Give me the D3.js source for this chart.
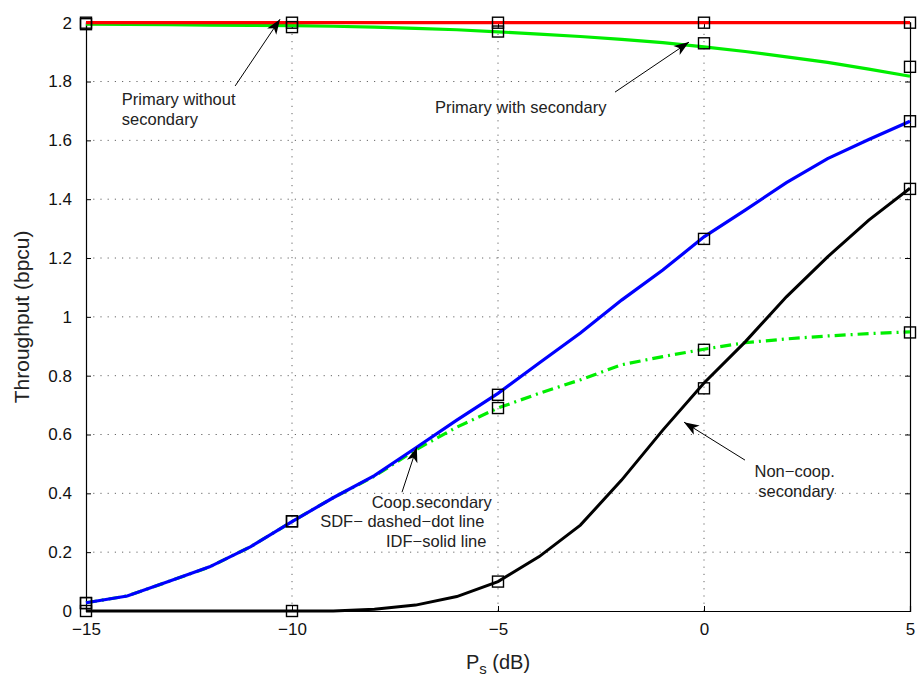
<!DOCTYPE html>
<html>
<head>
<meta charset="utf-8">
<script src="https://cdn.jsdelivr.net/npm/d3@7"></script>
<style>
  body { margin: 0; background: #fff; }
  svg { font-family: "Liberation Sans", Arial, Helvetica, sans-serif; }
  .grid line { stroke: #666; stroke-width: 1; stroke-dasharray: 1.2,6; }
  .tick-lbl { font-size: 17px; fill: #111; }
  .note { font-size: 16.5px; fill: #222; }
</style>
</head>
<body>
<svg id="chart" width="919" height="684"></svg>
<script>
// x axis: P_s in dB (curves computed at 1 dB steps)
const psDb = [-15, -14, -13, -12, -11, -10, -9, -8, -7, -6, -5, -4, -3, -2, -1, 0, 1, 2, 3, 4, 5]

// analytical curves
const primaryWithout = [2, 2, 2, 2, 2, 2, 2, 2, 2, 2, 2, 2, 2, 2, 2, 2, 2, 2, 2, 2, 2]
const primaryWith = [1.995, 1.994, 1.993, 1.992, 1.991, 1.99, 1.988, 1.985, 1.981, 1.976, 1.969,
                     1.961, 1.953, 1.943, 1.932, 1.918, 1.902, 1.884, 1.865, 1.842, 1.818]
const coopIdf = [0.028, 0.051, 0.1, 0.15, 0.219, 0.304, 0.385, 0.46, 0.554, 0.649, 0.74,
                 0.843, 0.945, 1.057, 1.159, 1.272, 1.363, 1.456, 1.538, 1.603, 1.665]
const coopSdf = [0.028, 0.051, 0.1, 0.15, 0.219, 0.304, 0.385, 0.458, 0.548, 0.625, 0.69,
                 0.74, 0.786, 0.837, 0.865, 0.89, 0.912, 0.925, 0.935, 0.943, 0.949]
const nonCoop = [0, 0, 0, 0, 0, 0, 0, 0.006, 0.02, 0.049, 0.1,
                 0.185, 0.292, 0.445, 0.615, 0.775, 0.915, 1.068, 1.204, 1.329, 1.437]

// simulated points (square markers)
const simDb = [-15, -10, -5, 0, 5]
const simWithout = [2, 2, 2, 2, 2]
const simWith = [1.995, 1.985, 1.97, 1.93, 1.85]
const simIdf = [0.027, 0.305, 0.735, 1.265, 1.665]
const simSdf = [0.027, 0.305, 0.69, 0.888, 0.947]
const simNonCoop = [0, 0, 0.1, 0.757, 1.435]

const xTicks = [-15, -10, -5, 0, 5]
const yTicks = [0, 0.2, 0.4, 0.6, 0.8, 1, 1.2, 1.4, 1.6, 1.8, 2]

const svg = d3.select("#chart")
const x = d3.scaleLinear().domain([-15, 5]).range([86, 910])
const y = d3.scaleLinear().domain([0, 2]).range([611, 22.7])

// grid
const grid = svg.append("g").attr("class", "grid")
grid.selectAll(".gx").data(xTicks.slice(1, -1)).enter().append("line")
  .attr("x1", d => x(d)).attr("x2", d => x(d)).attr("y1", y(0)).attr("y2", y(2))
grid.selectAll(".gy").data(yTicks.slice(1, -1)).enter().append("line")
  .attr("x1", x(-15)).attr("x2", x(5)).attr("y1", d => y(d)).attr("y2", d => y(d))

// axes (ticks point inward on all four sides)
svg.append("g").attr("transform", `translate(0,${y(0)})`)
  .call(d3.axisBottom(x).tickValues(xTicks).tickSize(-5).tickPadding(12).tickFormat(d3.format("")))
svg.append("g").attr("transform", `translate(0,${y(2)})`)
  .call(d3.axisTop(x).tickValues(xTicks).tickSize(-5).tickFormat(""))
svg.append("g").attr("transform", `translate(${x(-15)},0)`)
  .call(d3.axisLeft(y).tickValues(yTicks).tickSize(-5).tickPadding(14).tickFormat(d => String(d)))
svg.append("g").attr("transform", `translate(${x(5)},0)`)
  .call(d3.axisRight(y).tickValues(yTicks).tickSize(-5).tickFormat(""))
svg.selectAll(".domain").attr("stroke", "#000").attr("stroke-width", 1.2)
svg.selectAll(".tick line").attr("stroke", "#000")
svg.selectAll(".tick text").attr("class", "tick-lbl").attr("font-size", null).attr("font-family", null)

// curves
const line = d3.line().x((d, i) => x(psDb[i])).y(d => y(d))
const curves = [
  { vals: primaryWith,    color: "#00ee00", width: 3.2, dash: null },
  { vals: primaryWithout, color: "#ff0000", width: 3.2, dash: null },
  { vals: coopSdf,        color: "#00ee00", width: 3.2, dash: "11,5,2,5" },
  { vals: coopIdf,        color: "#0000ff", width: 3.2, dash: null },
  { vals: nonCoop,        color: "#000000", width: 3, dash: null }
]
svg.append("g").selectAll("path").data(curves).enter().append("path")
  .attr("d", d => line(d.vals))
  .attr("fill", "none")
  .attr("stroke", d => d.color)
  .attr("stroke-width", d => d.width)
  .attr("stroke-dasharray", d => d.dash)

// square markers
const sims = [simWithout, simWith, simIdf, simSdf, simNonCoop]
const pts = sims.flatMap(s => s.map((v, i) => ({ x: simDb[i], v })))
svg.append("g").selectAll("rect").data(pts).enter().append("rect")
  .attr("x", d => x(d.x) - 5.5).attr("y", d => y(d.v) - 5.5)
  .attr("width", 11).attr("height", 11)
  .attr("fill", "none").attr("stroke", "#000").attr("stroke-width", 1.4)

// annotations (arrows in data units: tail -> tip)
const arrows = [
  { from: [-11.38, 1.785], to: [-10.29, 2.012] },
  { from: [-2.16, 1.764],  to: [-0.364, 1.934] },
  { from: [-7.33, 0.404],  to: [-6.97, 0.557] },
  { from: [0.995, 0.513],  to: [-0.485, 0.642] }
]
const ag = svg.append("g")
arrows.forEach(a => {
  const x1 = x(a.from[0]), y1 = y(a.from[1]), x2 = x(a.to[0]), y2 = y(a.to[1])
  const ang = Math.atan2(y2 - y1, x2 - x1) * 180 / Math.PI
  ag.append("line").attr("x1", x1).attr("y1", y1).attr("x2", x2).attr("y2", y2)
    .attr("stroke", "#000").attr("stroke-width", 1)
  ag.append("path").attr("d", "M0,0 L-15,-5.5 L-11,0 L-15,5.5 Z")
    .attr("fill", "#000")
    .attr("transform", `translate(${x2},${y2}) rotate(${ang})`)
})

const notes = [
  { t: "Primary without", at: [-14.13, 1.72], anchor: "start" },
  { t: "secondary", at: [-14.13, 1.652], anchor: "start" },
  { t: "Primary with secondary", at: [-6.53, 1.693], anchor: "start" },
  { t: "Coop.secondary", at: [-5.15, 0.35], anchor: "end" },
  { t: "SDF\u2212 dashed\u2212dot line", at: [-5.33, 0.2855], anchor: "end" },
  { t: "IDF\u2212solid line", at: [-5.28, 0.2175], anchor: "end" },
  { t: "Non\u2212coop.", at: [2.2, 0.454], anchor: "middle" },
  { t: "secondary", at: [2.24, 0.386], anchor: "middle" }
]
svg.append("g").selectAll("text").data(notes).enter().append("text")
  .attr("class", "note")
  .attr("x", d => x(d.at[0])).attr("y", d => y(d.at[1]))
  .attr("text-anchor", d => d.anchor)
  .text(d => d.t)

// axis titles
svg.append("text")
  .attr("transform", `translate(29,${(y(0) + y(2)) / 2}) rotate(-90)`)
  .attr("text-anchor", "middle").attr("font-size", 21).attr("fill", "#222")
  .text("Throughput (bpcu)")
const xl = svg.append("text")
  .attr("x", (x(-15) + x(5)) / 2).attr("y", 669)
  .attr("text-anchor", "middle").attr("font-size", 20).attr("fill", "#222")
xl.append("tspan").text("P")
xl.append("tspan").attr("dy", 5).attr("font-size", 15).text("s")
xl.append("tspan").attr("dy", -5).text(" (dB)")
</script>
</body>
</html>
